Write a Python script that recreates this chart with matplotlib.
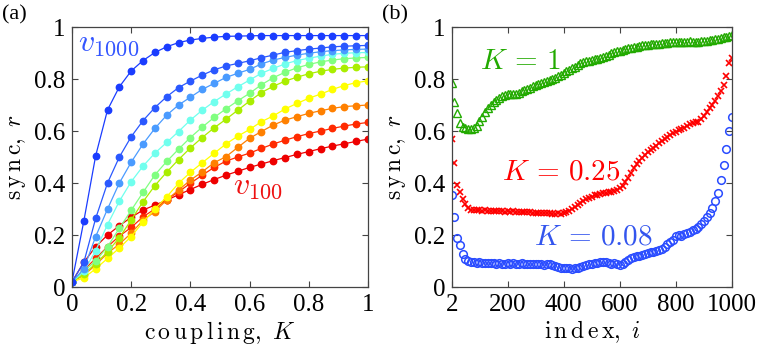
import numpy as np
import matplotlib
matplotlib.use("Agg")
import matplotlib.pyplot as plt

plt.rcParams['font.family'] = ['Liberation Serif', 'DejaVu Serif']
plt.rcParams['mathtext.fontset'] = 'cm'

# ---------------------------------------------------------------------------
# (a) sync r vs coupling K for v_100 ... v_1000
# ---------------------------------------------------------------------------
coupling = np.linspace(0, 1, 26)

curve_names = ["v100", "v200", "v300", "v400", "v500",
               "v600", "v700", "v800", "v900", "v1000"]
curve_colors = ["#ee0000", "#ff2a00", "#ff8000", "#ffff00", "#aaee00",
                "#80ff80", "#70ffee", "#4a9bff", "#2a58ff", "#1a3cff"]

v100 = [0.02, 0.095, 0.155, 0.20, 0.236, 0.268, 0.296, 0.315, 0.334, 0.355,
        0.375, 0.395, 0.413, 0.43, 0.445, 0.46, 0.473, 0.486, 0.498, 0.51,
        0.521, 0.532, 0.542, 0.551, 0.56, 0.569]
v200 = [0.02, 0.065, 0.11, 0.155, 0.196, 0.229, 0.27, 0.30, 0.336, 0.366,
        0.399, 0.43, 0.46, 0.484, 0.50, 0.515, 0.533, 0.55, 0.565, 0.578,
        0.59, 0.60, 0.61, 0.619, 0.627, 0.633]
v300 = [0.02, 0.045, 0.085, 0.13, 0.165, 0.207, 0.257, 0.29, 0.335, 0.373,
        0.411, 0.443, 0.478, 0.501, 0.537, 0.572, 0.598, 0.623, 0.642, 0.655,
        0.668, 0.678, 0.687, 0.694, 0.697, 0.70]
v400 = [0.02, 0.035, 0.07, 0.11, 0.15, 0.194, 0.25, 0.30, 0.347, 0.399,
        0.441, 0.478, 0.514, 0.55, 0.58, 0.606, 0.636, 0.658, 0.685, 0.706,
        0.726, 0.742, 0.76, 0.775, 0.786, 0.793]
v500 = [0.02, 0.05, 0.09, 0.135, 0.19, 0.258, 0.328, 0.39, 0.442, 0.49,
        0.535, 0.575, 0.612, 0.645, 0.68, 0.715, 0.748, 0.772, 0.792, 0.807,
        0.82, 0.83, 0.837, 0.842, 0.845, 0.847]
v600 = [0.02, 0.06, 0.10, 0.155, 0.226, 0.295, 0.364, 0.431, 0.483, 0.53,
        0.575, 0.615, 0.652, 0.685, 0.716, 0.745, 0.778, 0.805, 0.826, 0.843,
        0.856, 0.866, 0.873, 0.878, 0.881, 0.883]
v700 = [0.02, 0.06, 0.14, 0.24, 0.33, 0.405, 0.465, 0.515, 0.556, 0.598,
        0.642, 0.68, 0.713, 0.742, 0.77, 0.796, 0.822, 0.841, 0.858, 0.871,
        0.88, 0.888, 0.895, 0.899, 0.901, 0.902]
v800 = [0.02, 0.07, 0.194, 0.30, 0.40, 0.48, 0.55, 0.61, 0.661, 0.70,
        0.73, 0.76, 0.783, 0.806, 0.822, 0.837, 0.858, 0.873, 0.883, 0.892,
        0.899, 0.905, 0.909, 0.912, 0.914, 0.915]
v900 = [0.02, 0.095, 0.264, 0.40, 0.50, 0.578, 0.64, 0.69, 0.732, 0.767,
        0.792, 0.815, 0.835, 0.85, 0.86, 0.87, 0.882, 0.892, 0.903, 0.909,
        0.915, 0.919, 0.924, 0.926, 0.928, 0.929]
v1000 = [0.02, 0.254, 0.505, 0.681, 0.77, 0.831, 0.871, 0.902, 0.924, 0.94,
         0.95, 0.956, 0.961, 0.964, 0.965, 0.966, 0.967, 0.967, 0.967, 0.967,
         0.967, 0.967, 0.967, 0.967, 0.967, 0.967]
curves = [v100, v200, v300, v400, v500, v600, v700, v800, v900, v1000]

# ---------------------------------------------------------------------------
# (b) sync r vs oscillator index i for three couplings
# ---------------------------------------------------------------------------
index = [2] + list(range(10, 1001, 10))

sync_k1 = [0.783, 0.713, 0.668, 0.63, 0.617, 0.61, 0.608, 0.607, 0.61, 0.62,
           0.638, 0.655, 0.672, 0.688, 0.70, 0.712, 0.72, 0.728, 0.734, 0.738,
           0.741, 0.744, 0.744, 0.743, 0.745, 0.752, 0.757, 0.762, 0.766, 0.772,
           0.777, 0.782, 0.786, 0.789, 0.792, 0.796, 0.80, 0.804, 0.81, 0.815,
           0.822, 0.829, 0.836, 0.842, 0.848, 0.854, 0.86, 0.865, 0.868, 0.871,
           0.874, 0.876, 0.878, 0.881, 0.886, 0.89, 0.894, 0.899, 0.903, 0.906,
           0.909, 0.912, 0.915, 0.918, 0.921, 0.923, 0.925, 0.927, 0.929, 0.93,
           0.932, 0.933, 0.934, 0.935, 0.936, 0.937, 0.938, 0.939, 0.941, 0.942,
           0.943, 0.944, 0.944, 0.943, 0.944, 0.945, 0.944, 0.943, 0.944, 0.945,
           0.946, 0.947, 0.949, 0.95, 0.952, 0.955, 0.958, 0.961, 0.963, 0.966,
           0.969]
sync_k025 = [0.568, 0.476, 0.392, 0.365, 0.34, 0.32, 0.305, 0.298, 0.296, 0.295,
             0.296, 0.294, 0.295, 0.293, 0.294, 0.292, 0.293, 0.291, 0.292, 0.29,
             0.291, 0.29, 0.292, 0.29, 0.289, 0.29, 0.288, 0.289, 0.287, 0.286,
             0.286, 0.285, 0.284, 0.285, 0.283, 0.284, 0.282, 0.281, 0.283, 0.282,
             0.285, 0.288, 0.293, 0.30, 0.308, 0.317, 0.325, 0.332, 0.338, 0.344,
             0.348, 0.352, 0.355, 0.358, 0.36, 0.362, 0.364, 0.367, 0.37, 0.375,
             0.382, 0.39, 0.403, 0.418, 0.437, 0.458, 0.472, 0.484, 0.496, 0.507,
             0.518, 0.527, 0.536, 0.544, 0.552, 0.56, 0.568, 0.576, 0.585, 0.592,
             0.598, 0.603, 0.608, 0.613, 0.62, 0.626, 0.63, 0.633, 0.636, 0.645,
             0.658, 0.672, 0.688, 0.70, 0.716, 0.735, 0.755, 0.778, 0.81, 0.86,
             0.88]
sync_k008 = [0.354, 0.268, 0.19, 0.162, 0.128, 0.106, 0.099, 0.096, 0.095, 0.094,
             0.095, 0.093, 0.092, 0.094, 0.091, 0.092, 0.09, 0.091, 0.089, 0.09,
             0.091, 0.09, 0.092, 0.09, 0.089, 0.091, 0.09, 0.088, 0.089, 0.087,
             0.088, 0.09, 0.087, 0.086, 0.088, 0.089, 0.085, 0.082, 0.078, 0.075,
             0.073, 0.072, 0.073, 0.071, 0.072, 0.074, 0.076, 0.08, 0.084, 0.088,
             0.09, 0.092, 0.093, 0.095, 0.097, 0.095, 0.092, 0.09, 0.092, 0.088,
             0.084, 0.09, 0.097, 0.104, 0.11, 0.115, 0.118, 0.121, 0.124, 0.127,
             0.13, 0.133, 0.136, 0.139, 0.143, 0.148, 0.155, 0.165, 0.175, 0.182,
             0.195, 0.20, 0.198, 0.205, 0.208, 0.213, 0.218, 0.225, 0.232, 0.242,
             0.255, 0.268, 0.285, 0.305, 0.33, 0.36, 0.41, 0.47, 0.53, 0.60,
             0.655]

green = "#22aa00"
red = "#ff0000"
blue = "#2a4cff"

fig = plt.figure(figsize=(7.64, 3.6), dpi=100)
ax1 = fig.add_axes([72 / 764, 1 - 287 / 360, 296 / 764, 260 / 360])
ax2 = fig.add_axes([452 / 764, 1 - 287 / 360, 280 / 764, 260 / 360])

for vals, col in zip(curves, curve_colors):
    ax1.plot(coupling, vals, '-o', color=col, lw=0.9, ms=4.6, mec=col, mfc=col)

# labels with large subscripts, like the original
ax1.text(0.02, 0.935, r'$v_{\mathrm{1000}}$', color="#3355ff", fontsize=23,
         ha='left', va='center')
ax1.text(0.545, 0.385, r'$v_{\mathrm{100}}$', color="#ee1111", fontsize=23,
         ha='left', va='center')
ax1.set_xlim(0, 1)
ax1.set_ylim(0, 1)
ax1.set_xticks([0, 0.2, 0.4, 0.6, 0.8, 1])
ax1.set_xticklabels(["0", "0.2", "0.4", "0.6", "0.8", "1"])
ax1.set_yticks([0, 0.2, 0.4, 0.6, 0.8, 1])
ax1.set_yticklabels(["0", "0.2", "0.4", "0.6", "0.8", "1"])
ax1.set_xlabel(r'$\mathrm{c\,o\,u\,p\,l\,i\,n\,g},\ K$', fontsize=17, labelpad=2)
ax1.set_ylabel(r'$\mathrm{s\,y\,n\,c},\ r$', fontsize=17, labelpad=4)

ax2.plot(index, sync_k1, ls='none', marker='^', ms=5.5, mfc='none', mec=green, mew=1.0)
ax2.plot(index, sync_k025, ls='none', marker='x', ms=4.5, mec=red, mew=1.2)
ax2.plot(index, sync_k008, ls='none', marker='o', ms=5.5, mfc='none', mec=blue, mew=1.1)
ax2.text(246, 0.865, r'$K\,=\,1$', color=green, fontsize=21, ha='center', va='center')
ax2.text(390, 0.44, r'$K\,=\,0.25$', color=red, fontsize=21, ha='center', va='center')
ax2.text(506, 0.19, r'$K\,=\,0.08$', color="#3355ee", fontsize=21, ha='center', va='center')
ax2.set_xlim(2, 1000)
ax2.set_ylim(0, 1)
ax2.set_xticks([2, 200, 400, 600, 800, 1000])
ax2.set_xticklabels(["2", "200", "400", "600", "800", "1000"])
ax2.set_yticks([0, 0.2, 0.4, 0.6, 0.8, 1])
ax2.set_yticklabels(["0", "0.2", "0.4", "0.6", "0.8", "1"])
ax2.set_xlabel(r'$\mathrm{i\,n\,d\,e\,x},\ i$', fontsize=17, labelpad=2)
ax2.set_ylabel(r'$\mathrm{s\,y\,n\,c},\ r$', fontsize=17, labelpad=4)

for ax in (ax1, ax2):
    ax.tick_params(direction='in', top=True, right=True, length=4, width=0.8,
                   labelsize=18, pad=5, colors='#444444', labelcolor='black')
    for sp in ax.spines.values():
        sp.set_color('#444444')
        sp.set_linewidth(0.9)

fig.text(0.003, 0.985, "(a)", fontsize=16, ha='left', va='top')
fig.text(0.5, 0.985, "(b)", fontsize=16, ha='left', va='top')

fig.savefig("out.png", dpi=100)
